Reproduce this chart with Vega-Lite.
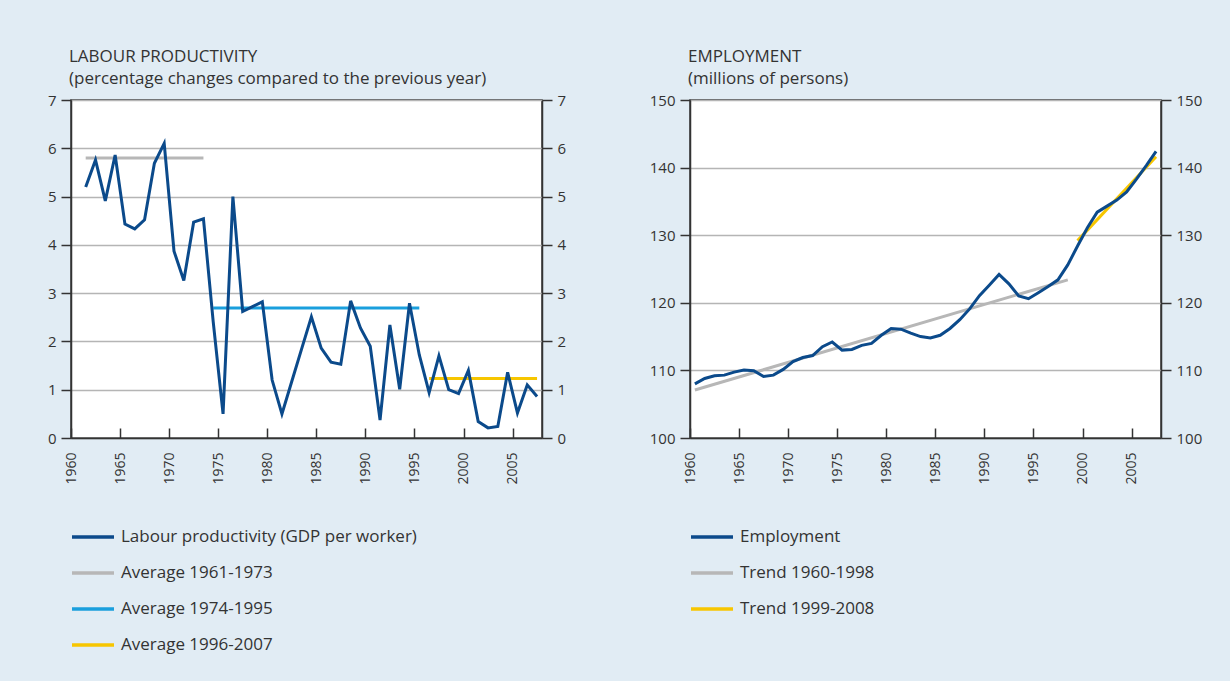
{
  "$schema": "https://vega.github.io/schema/vega-lite/v6.json",
  "background": "#e1ecf4",
  "padding": {"left": 46, "top": 47, "right": 33, "bottom": 30},
  "spacing": 81,
  "config": {
    "font": "Open Sans",
    "view": {"stroke": "#333333", "strokeWidth": 1.5, "fill": "#ffffff"},
    "axis": {
      "labelFontSize": 15, "labelColor": "#333333", "domainColor": "#333333", "domainWidth": 1.5,
      "tickColor": "#333333", "tickWidth": 1.5, "title": null
    },
    "title": {"fontSize": 17, "fontWeight": "normal", "color": "#333333", "anchor": "start", "frame": "group", "dx": -2, "lineHeight": 22, "offset": 5},
    "legend": {"labelFontSize": 17, "labelColor": "#333333", "labelLimit": 0, "symbolType": "stroke", "symbolSize": 1764, "symbolStrokeWidth": 3.5, "labelOffset": 5, "rowPadding": 5, "title": null, "orient": "none", "direction": "vertical"}
  },
  "datasets": {
    "prod": [
      {"date": "1961-07-01", "value": 5.2}, {"date": "1962-07-01", "value": 5.76}, {"date": "1963-07-01", "value": 4.91},
      {"date": "1964-07-01", "value": 5.86}, {"date": "1965-07-01", "value": 4.43}, {"date": "1966-07-01", "value": 4.33},
      {"date": "1967-07-01", "value": 4.52}, {"date": "1968-07-01", "value": 5.69}, {"date": "1969-07-01", "value": 6.1},
      {"date": "1970-07-01", "value": 3.87}, {"date": "1971-07-01", "value": 3.26}, {"date": "1972-07-01", "value": 4.47},
      {"date": "1973-07-01", "value": 4.54}, {"date": "1974-07-01", "value": 2.4}, {"date": "1975-07-01", "value": 0.5},
      {"date": "1976-07-01", "value": 5.0}, {"date": "1977-07-01", "value": 2.62}, {"date": "1978-07-01", "value": 2.72},
      {"date": "1979-07-01", "value": 2.82}, {"date": "1980-07-01", "value": 1.2}, {"date": "1981-07-01", "value": 0.5},
      {"date": "1982-07-01", "value": 1.17}, {"date": "1983-07-01", "value": 1.84}, {"date": "1984-07-01", "value": 2.51},
      {"date": "1985-07-01", "value": 1.86}, {"date": "1986-07-01", "value": 1.57}, {"date": "1987-07-01", "value": 1.53},
      {"date": "1988-07-01", "value": 2.84}, {"date": "1989-07-01", "value": 2.28}, {"date": "1990-07-01", "value": 1.9},
      {"date": "1991-07-01", "value": 0.37}, {"date": "1992-07-01", "value": 2.34}, {"date": "1993-07-01", "value": 1.01},
      {"date": "1994-07-01", "value": 2.79}, {"date": "1995-07-01", "value": 1.72}, {"date": "1996-07-01", "value": 0.94},
      {"date": "1997-07-01", "value": 1.7}, {"date": "1998-07-01", "value": 1.0}, {"date": "1999-07-01", "value": 0.92},
      {"date": "2000-07-01", "value": 1.4}, {"date": "2001-07-01", "value": 0.34}, {"date": "2002-07-01", "value": 0.21},
      {"date": "2003-07-01", "value": 0.24}, {"date": "2004-07-01", "value": 1.36}, {"date": "2005-07-01", "value": 0.52},
      {"date": "2006-07-01", "value": 1.1}, {"date": "2007-07-01", "value": 0.86}
    ],
    "prodAvg": [
      {"series": "Average 1961-1973", "date": "1961-07-01", "value": 5.8},
      {"series": "Average 1961-1973", "date": "1973-07-01", "value": 5.8},
      {"series": "Average 1974-1995", "date": "1974-07-01", "value": 2.69},
      {"series": "Average 1974-1995", "date": "1995-07-01", "value": 2.69},
      {"series": "Average 1996-2007", "date": "1996-07-01", "value": 1.23},
      {"series": "Average 1996-2007", "date": "2007-07-01", "value": 1.23}
    ],
    "emp": [
      {"date": "1960-07-01", "value": 108.0}, {"date": "1961-07-01", "value": 108.8}, {"date": "1962-07-01", "value": 109.2},
      {"date": "1963-07-01", "value": 109.3}, {"date": "1964-07-01", "value": 109.75}, {"date": "1965-07-01", "value": 110.05},
      {"date": "1966-07-01", "value": 109.95}, {"date": "1967-07-01", "value": 109.1}, {"date": "1968-07-01", "value": 109.3},
      {"date": "1969-07-01", "value": 110.15}, {"date": "1970-07-01", "value": 111.3}, {"date": "1971-07-01", "value": 111.9},
      {"date": "1972-07-01", "value": 112.2}, {"date": "1973-07-01", "value": 113.5}, {"date": "1974-07-01", "value": 114.2},
      {"date": "1975-07-01", "value": 113.0}, {"date": "1976-07-01", "value": 113.1}, {"date": "1977-07-01", "value": 113.7},
      {"date": "1978-07-01", "value": 114.0}, {"date": "1979-07-01", "value": 115.2}, {"date": "1980-07-01", "value": 116.2},
      {"date": "1981-07-01", "value": 116.1}, {"date": "1982-07-01", "value": 115.5}, {"date": "1983-07-01", "value": 115.0},
      {"date": "1984-07-01", "value": 114.8}, {"date": "1985-07-01", "value": 115.2}, {"date": "1986-07-01", "value": 116.2},
      {"date": "1987-07-01", "value": 117.5}, {"date": "1988-07-01", "value": 119.1}, {"date": "1989-07-01", "value": 121.05},
      {"date": "1990-07-01", "value": 122.6}, {"date": "1991-07-01", "value": 124.2}, {"date": "1992-07-01", "value": 122.8},
      {"date": "1993-07-01", "value": 121.0}, {"date": "1994-07-01", "value": 120.6}, {"date": "1995-07-01", "value": 121.5},
      {"date": "1996-07-01", "value": 122.4}, {"date": "1997-07-01", "value": 123.4}, {"date": "1998-07-01", "value": 125.6},
      {"date": "1999-07-01", "value": 128.4}, {"date": "2000-07-01", "value": 131.1}, {"date": "2001-07-01", "value": 133.4},
      {"date": "2002-07-01", "value": 134.3}, {"date": "2003-07-01", "value": 135.2}, {"date": "2004-07-01", "value": 136.4},
      {"date": "2005-07-01", "value": 138.3}, {"date": "2006-07-01", "value": 140.3}, {"date": "2007-07-01", "value": 142.4}
    ],
    "empTrend": [
      {"series": "Trend 1960-1998", "date": "1960-07-01", "value": 107.1},
      {"series": "Trend 1960-1998", "date": "1998-07-01", "value": 123.4},
      {"series": "Trend 1999-2008", "date": "1999-07-01", "value": 129.2},
      {"series": "Trend 1999-2008", "date": "2007-07-01", "value": 141.6}
    ]
  },
  "hconcat": [
    {
      "width": 471,
      "height": 338,
      "title": {"text": ["LABOUR PRODUCTIVITY", "(percentage changes compared to the previous year)"]},
      "encoding": {
        "x": {
          "field": "date", "type": "temporal",
          "scale": {"domain": [{"year": 1960, "month": 1, "date": 1}, {"year": 2008, "month": 1, "date": 1}]},
          "axis": {"format": "%Y", "tickCount": {"interval": "year", "step": 5}, "labelAngle": -90, "tickSize": -10, "labelPadding": 24, "grid": false, "labelFontSize": 14}
        }
      },
      "layer": [
        {
          "data": {"name": "prodAvg"},
          "mark": {"type": "line", "strokeWidth": 3},
          "encoding": {
            "y": {
              "field": "value", "type": "quantitative",
              "scale": {"domain": [0, 7], "nice": false},
              "axis": {"orient": "left", "values": [0, 1, 2, 3, 4, 5, 6, 7], "grid": true, "gridColor": "#b5b5b5", "gridWidth": 1.5, "tickSize": 10, "labelPadding": 5}
            },
            "color": {
              "field": "series", "type": "nominal",
              "scale": {
                "domain": ["Labour productivity (GDP per worker)", "Average 1961-1973", "Average 1974-1995", "Average 1996-2007"],
                "range": ["#0b4a8b", "#b7b7b7", "#1a9fdd", "#f7c600"]
              },
              "legend": {"legendX": -1, "legendY": 414, "rowPadding": 5}
            }
          }
        },
        {
          "data": {"name": "prod"},
          "mark": {"type": "line", "strokeWidth": 3},
          "encoding": {
            "y": {"field": "value", "type": "quantitative", "axis": null},
            "color": {"datum": "Labour productivity (GDP per worker)", "type": "nominal"}
          }
        },
        {
          "data": {"name": "prod"},
          "mark": {"type": "rule", "opacity": 0},
          "encoding": {
            "y": {"field": "value", "type": "quantitative", "axis": {"orient": "right", "values": [0, 1, 2, 3, 4, 5, 6, 7], "grid": false, "tickSize": 10, "labelPadding": 5}}
          }
        }
      ],
      "resolve": {"axis": {"y": "independent"}}
    },
    {
      "width": 471,
      "height": 338,
      "title": {"text": ["EMPLOYMENT", "(millions of persons)"]},
      "encoding": {
        "x": {
          "field": "date", "type": "temporal",
          "scale": {"domain": [{"year": 1960, "month": 1, "date": 1}, {"year": 2008, "month": 1, "date": 1}]},
          "axis": {"format": "%Y", "tickCount": {"interval": "year", "step": 5}, "labelAngle": -90, "tickSize": -10, "labelPadding": 24, "grid": false, "labelFontSize": 14}
        }
      },
      "layer": [
        {
          "data": {"name": "empTrend"},
          "mark": {"type": "line", "strokeWidth": 3},
          "encoding": {
            "y": {
              "field": "value", "type": "quantitative",
              "scale": {"domain": [100, 150], "nice": false, "zero": false},
              "axis": {"orient": "left", "values": [100, 110, 120, 130, 140, 150], "grid": true, "gridColor": "#b5b5b5", "gridWidth": 1.5, "tickSize": 10, "labelPadding": 5}
            },
            "color": {
              "field": "series", "type": "nominal",
              "scale": {
                "domain": ["Employment", "Trend 1960-1998", "Trend 1999-2008"],
                "range": ["#0b4a8b", "#b7b7b7", "#f7c600"]
              },
              "legend": {"legendX": -1, "legendY": 414, "rowPadding": 5}
            }
          }
        },
        {
          "data": {"name": "emp"},
          "mark": {"type": "line", "strokeWidth": 3},
          "encoding": {
            "y": {"field": "value", "type": "quantitative", "axis": null},
            "color": {"datum": "Employment", "type": "nominal"}
          }
        },
        {
          "data": {"name": "emp"},
          "mark": {"type": "rule", "opacity": 0},
          "encoding": {
            "y": {"field": "value", "type": "quantitative", "axis": {"orient": "right", "values": [100, 110, 120, 130, 140, 150], "grid": false, "tickSize": 10, "labelPadding": 5}}
          }
        }
      ],
      "resolve": {"axis": {"y": "independent"}}
    }
  ],
  "resolve": {"scale": {"color": "independent"}, "legend": {"color": "independent"}}
}
